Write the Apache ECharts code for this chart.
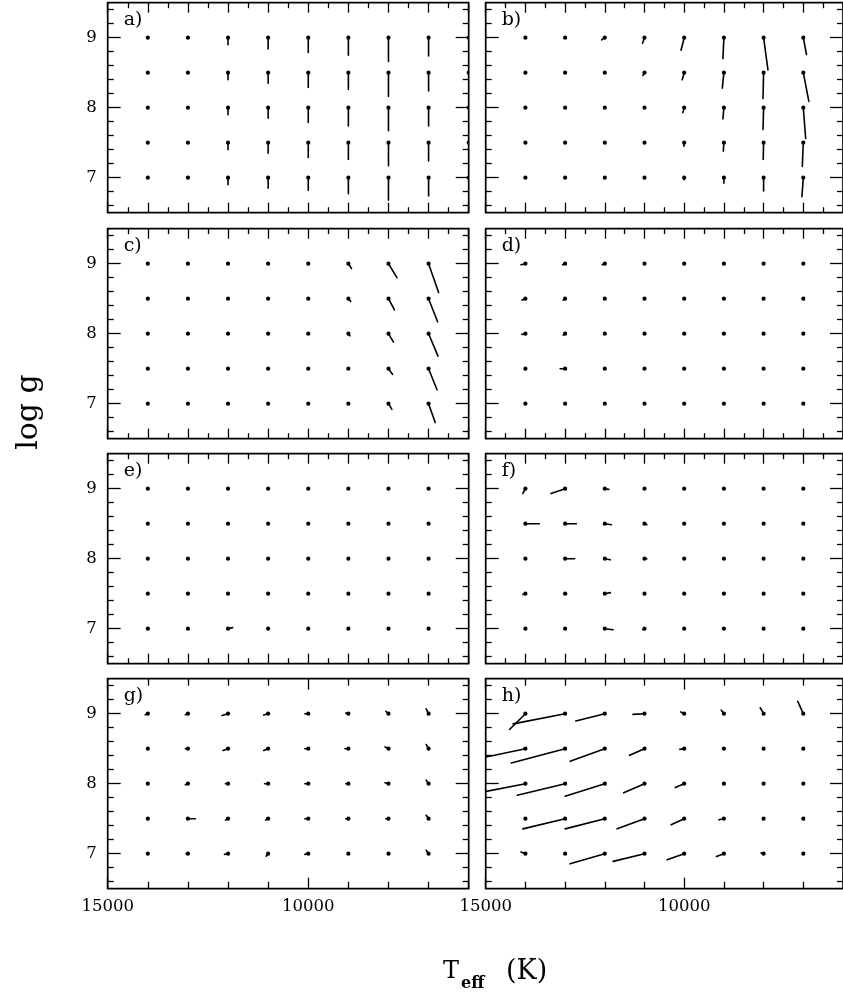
<!DOCTYPE html>
<html>
<head>
<meta charset="utf-8">
<script src="https://cdn.jsdelivr.net/npm/echarts@6/dist/echarts.min.js"></script>
<style>
  html, body { margin: 0; padding: 0; background: #ffffff; }
  #chart { width: 843px; height: 999px; }
</style>
</head>
<body>
<div id="chart"></div>
<script>
// Grid of model points: effective temperature (K) and surface gravity (log g)
const TEFF = [14000, 13000, 12000, 11000, 10000, 9000, 8000, 7000, 6000];
const LOGG = [9.0, 8.5, 8.0, 7.5, 7.0];

const PANEL_NAMES = ['a)', 'b)', 'c)', 'd)', 'e)', 'f)', 'g)', 'h)'];
const X_TICK_LABELS = [15000, 10000];
const Y_TICK_LABELS = [7, 8, 9];

// Shift of each fitted point: rows follow LOGG, columns follow TEFF.
// dT in K, dG in dex; null = no point drawn.
const A_DT = [
  [0, 0, 0, 0, 0, 0, 0, 0, 0],
  [0, 0, 0, 0, 0, 0, 0, 0, 0],
  [0, 0, 0, 0, 0, 0, 0, 0, 0],
  [0, 0, 0, 0, 0, 0, 0, 0, 0],
  [0, 0, 0, 0, 0, 0, 0, 0, 0]
];
const A_DG = [
  [0, 0, -0.10, -0.16, -0.21, -0.25, -0.34, -0.26, 0],
  [0, 0, -0.10, -0.15, -0.21, -0.24, -0.34, -0.26, 0],
  [0, 0, -0.10, -0.15, -0.21, -0.26, -0.33, -0.26, 0],
  [0, 0, -0.10, -0.15, -0.21, -0.24, -0.33, -0.26, 0],
  [0, 0, -0.10, -0.15, -0.18, -0.23, -0.32, -0.26, 0]
];

const B_DT = [
  [0, 0, 80, 50, 80, 25, -110, -80, null],
  [0, 0, 0, 40, 50, 40, 15, -140, null],
  [0, 0, 0, 0, 35, 25, 15, -60, null],
  [0, 0, 0, 0, 10, 15, 10, 25, null],
  [0, 0, 0, 0, 0, 0, 0, 35, null]
];
const B_DG = [
  [0, 0, -0.03, -0.08, -0.18, -0.30, -0.46, -0.24, null],
  [0, 0, 0, -0.04, -0.10, -0.22, -0.37, -0.41, null],
  [0, 0, 0, 0, -0.07, -0.16, -0.31, -0.44, null],
  [0, 0, 0, 0, -0.05, -0.12, -0.24, -0.34, null],
  [0, 0, 0, 0, -0.03, -0.08, -0.19, -0.27, null]
];

const C_DT = [
  [0, 0, 0, 0, 0, -80, -210, -250, null],
  [0, 0, 0, 0, 0, -60, -150, -225, null],
  [0, 0, 0, 0, 0, -40, -125, -235, null],
  [0, 0, 0, 0, 0, 0, -100, -210, null],
  [0, 0, 0, 0, 0, 0, -85, -165, null]
];
const C_DG = [
  [0, 0, 0, 0, 0, -0.07, -0.20, -0.41, null],
  [0, 0, 0, 0, 0, -0.04, -0.16, -0.33, null],
  [0, 0, 0, 0, 0, -0.03, -0.12, -0.32, null],
  [0, 0, 0, 0, 0, 0, -0.08, -0.30, null],
  [0, 0, 0, 0, 0, 0, -0.08, -0.27, null]
];

const D_DT = [
  [110, 65, 65, 0, 0, 0, 0, 0, null],
  [85, 50, 0, 0, 0, 0, 0, 0, null],
  [85, 50, 0, 0, 0, 0, 0, 0, null],
  [0, 125, 0, 0, 0, 0, 0, 0, null],
  [0, 0, 0, 0, 0, 0, 0, 0, null]
];
const D_DG = [
  [-0.015, -0.015, -0.015, 0, 0, 0, 0, 0, null],
  [-0.02, -0.02, 0, 0, 0, 0, 0, 0, null],
  [-0.01, -0.02, 0, 0, 0, 0, 0, 0, null],
  [0, 0, 0, 0, 0, 0, 0, 0, null],
  [0, 0, 0, 0, 0, 0, 0, 0, null]
];

const E_DT = [
  [0, 0, 0, 0, 0, 0, 0, 0, null],
  [0, 0, 0, 0, 0, 0, 0, 0, null],
  [0, 0, 0, 0, 0, 0, 0, 0, null],
  [0, 0, 0, 0, 0, 0, 0, 0, null],
  [-35, 0, -115, 0, 0, 0, 0, 0, null]
];
const E_DG = [
  [0, 0, 0, 0, 0, 0, 0, 0, null],
  [0, 0, 0, 0, 0, 0, 0, 0, null],
  [0, 0, 0, 0, 0, 0, 0, 0, null],
  [0, 0, 0, 0, 0, 0, 0, 0, null],
  [0, 0, 0.015, 0, 0, 0, 0, 0, null]
];

const F_DT = [
  [65, 355, -100, 0, 0, 0, 0, 0, null],
  [-350, -285, -165, -60, 0, 0, 0, 0, null],
  [0, -240, -140, -60, 0, 0, 0, 0, null],
  [65, -40, -140, 0, 0, 0, 0, 0, null],
  [0, 0, -210, 40, 0, 0, 0, 0, null]
];
const F_DG = [
  [-0.07, -0.07, -0.01, 0, 0, 0, 0, 0, null],
  [0, 0, -0.015, -0.015, 0, 0, 0, 0, null],
  [0, 0, -0.015, 0, 0, 0, 0, 0, null],
  [-0.01, 0, 0.015, 0, 0, 0, 0, 0, null],
  [0, 0, -0.015, -0.015, 0, 0, 0, 0, null]
];

const G_DT = [
  [65, 65, 150, 110, 85, 65, 65, 60, null],
  [0, 65, 125, 110, 85, 85, 85, 60, null],
  [0, 65, 65, 90, 85, 65, 85, 60, null],
  [0, -185, 65, 65, 85, 65, 65, 60, null],
  [0, 50, 90, 50, 85, 0, 0, 60, null]
];
const G_DG = [
  [-0.015, -0.015, -0.025, -0.02, 0, 0.01, 0.035, 0.07, null],
  [0, 0, -0.025, -0.025, 0, 0, 0.025, 0.06, null],
  [0, -0.015, 0, 0, 0, 0, 0.015, 0.05, null],
  [0, 0, -0.02, -0.02, 0, 0, 0, 0.05, null],
  [0, 0, -0.01, -0.035, -0.01, 0, 0, 0.05, null]
];

const H_DT = [
  [400, 1310, 730, 290, 85, 65, 85, 140, null],
  [1040, 1355, 875, 375, 110, 0, 0, 0, null],
  [1040, 1205, 1000, 525, 225, 0, 0, 0, null],
  [0, 1065, 1000, 690, 330, 125, 0, 0, null],
  [110, 0, 875, 790, 430, 190, 65, 0, null]
];
const H_DG = [
  [-0.225, -0.145, -0.105, -0.01, 0.025, 0.05, 0.085, 0.175, null],
  [-0.125, -0.205, -0.18, -0.095, -0.01, 0, 0, 0, null],
  [-0.115, -0.165, -0.18, -0.13, -0.055, 0, 0, 0, null],
  [0, -0.145, -0.145, -0.145, -0.085, -0.015, 0, 0, null],
  [0.025, 0, -0.145, -0.11, -0.085, -0.04, 0.01, 0, null]
];

const PANELS = [
  [A_DT, A_DG], [B_DT, B_DG], [C_DT, C_DG], [D_DT, D_DG],
  [E_DT, E_DG], [F_DT, F_DG], [G_DT, G_DG], [H_DT, H_DG]
];

// ---- layout ----
const FONT = 'DejaVu Serif';
const COL_LEFT = [107.7, 485.7];
const ROW_TOP = [2.7, 228.7, 453.7, 678.7];
const PW = 361, PH = 210;
const T_MIN = 6000, T_MAX = 15000, G_MIN = 6.5, G_MAX = 9.5;

function range(a, b, step) {
  const out = [];
  for (let v = a; v <= b + 1e-9; v += step) out.push(Math.round(v * 100) / 100);
  return out;
}
const X_MAJOR_FINE = range(6000, 15000, 1000);
const X_MINOR_FINE = range(6500, 14500, 1000);
const X_MAJOR_COARSE = [10000, 15000];
const X_MINOR_COARSE = [6000, 7000, 8000, 9000, 11000, 12000, 13000, 14000];
const Y_MAJOR = [7, 8, 9];
const Y_MINOR = range(6.6, 9.4, 0.2).filter(v => Math.abs(v - Math.round(v)) > 1e-6);

const grids = [], xAxes = [], yAxes = [], series = [];

PANELS.forEach(([dT, dG], i) => {
  const row = Math.floor(i / 2), col = i % 2;
  grids.push({
    left: COL_LEFT[col], top: ROW_TOP[row], width: PW, height: PH,
    show: true, borderColor: '#000', borderWidth: 1.7, backgroundColor: 'transparent'
  });

  const coarse = row === 3;
  const xSets = coarse
    ? [[X_MAJOR_COARSE, 11], [X_MINOR_COARSE, 7]]
    : [[X_MAJOR_FINE, 10], [X_MINOR_FINE, 5.5]];
  ['bottom', 'top'].forEach(pos => {
    xSets.forEach(([vals, len], k) => {
      const withLabels = coarse && pos === 'bottom' && k === 0;
      xAxes.push({
        gridIndex: i, type: 'value', position: pos, inverse: true,
        min: T_MIN, max: T_MAX,
        axisLine: { show: false }, splitLine: { show: false },
        axisTick: { show: true, inside: true, length: len, customValues: vals,
                    lineStyle: { color: '#000', width: 1.3 } },
        axisLabel: withLabels
          ? { show: true, customValues: X_TICK_LABELS, margin: 10, color: '#000',
              fontFamily: FONT, fontSize: 16.5, formatter: v => String(v) }
          : { show: false }
      });
    });
  });

  const ySets = [[Y_MAJOR, 13], [Y_MINOR, 6]];
  ['left', 'right'].forEach(pos => {
    ySets.forEach(([vals, len], k) => {
      const withLabels = col === 0 && pos === 'left' && k === 0;
      yAxes.push({
        gridIndex: i, type: 'value', position: pos,
        min: G_MIN, max: G_MAX,
        axisLine: { show: false }, splitLine: { show: false },
        axisTick: { show: true, inside: true, length: len, customValues: vals,
                    lineStyle: { color: '#000', width: 1.3 } },
        axisLabel: withLabels
          ? { show: true, customValues: Y_TICK_LABELS, margin: 11, color: '#000',
              fontFamily: FONT, fontSize: 16.5, formatter: v => String(v) }
          : { show: false }
      });
    });
  });

  const data = [];
  LOGG.forEach((g, r) => {
    TEFF.forEach((t, c) => {
      if (dT[r][c] === null || dG[r][c] === null) return;
      data.push([t, g, dT[r][c], dG[r][c]]);
    });
  });

  series.push({
    type: 'custom',
    xAxisIndex: i * 4,
    yAxisIndex: i * 4,
    clip: true,
    silent: true,
    data: data,
    renderItem: (params, api) => {
      const t = api.value(0), g = api.value(1);
      const p0 = api.coord([t, g]);
      const p1 = api.coord([t + api.value(2), g + api.value(3)]);
      return {
        type: 'group',
        children: [
          { type: 'line',
            shape: { x1: p0[0], y1: p0[1], x2: p1[0], y2: p1[1] },
            style: { stroke: '#000', lineWidth: 1.6, lineCap: 'round' } },
          { type: 'circle',
            shape: { cx: p0[0], cy: p0[1], r: 2.1 },
            style: { fill: '#000' } }
        ]
      };
    }
  });
});

// panel letters and axis titles
const graphics = PANEL_NAMES.map((name, i) => ({
  type: 'text',
  x: COL_LEFT[i % 2] + 16, y: ROW_TOP[Math.floor(i / 2)] + 8,
  style: { text: name, font: '19px "' + FONT + '"', fill: '#000',
           textAlign: 'left', textVerticalAlign: 'top' }
}));
graphics.push(
  { type: 'text', x: 443, y: 972,
    style: { text: 'T', font: '24px "' + FONT + '"', fill: '#000',
             textAlign: 'left', textVerticalAlign: 'middle' } },
  { type: 'text', x: 461, y: 984,
    style: { text: 'eff', font: 'bold 16px "' + FONT + '"', fill: '#000',
             textAlign: 'left', textVerticalAlign: 'middle' } },
  { type: 'text', x: 506, y: 972,
    style: { text: '(K)', font: '27px "' + FONT + '"', fill: '#000',
             textAlign: 'left', textVerticalAlign: 'middle' } },
  { type: 'text', x: 29, y: 412, rotation: Math.PI / 2,
    style: { text: 'log g', font: '30px "' + FONT + '"', fill: '#000',
             textAlign: 'center', textVerticalAlign: 'middle' } }
);

const chart = echarts.init(document.getElementById('chart'), null, { renderer: 'canvas' });
chart.setOption({
  animation: false,
  backgroundColor: '#ffffff',
  grid: grids,
  xAxis: xAxes,
  yAxis: yAxes,
  series: series,
  graphic: graphics
});
</script>
</body>
</html>
